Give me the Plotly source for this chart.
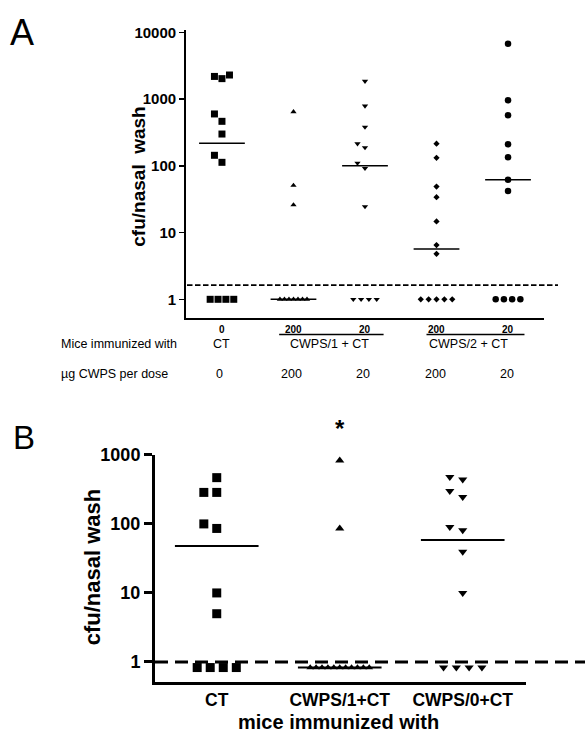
import plotly.graph_objects as go
import math

# ---------------- data: panel A ----------------
doses_A = ["0", "200", "20", "200", "20"]
vaccines_A = ["CT", "CWPS/1 + CT", "CWPS/2 + CT"]
dose_values_A = ["0", "200", "20", "200", "20"]
tick_vals_A = [1, 10, 100, 1000, 10000]
tick_text_A = ["1", "10", "100", "1000", "10000"]

values_A_ct = [2300, 2190, 2030, 600, 465, 300, 144, 113, 1, 1, 1, 1]
values_A_cwps1_200 = [645, 51, 26, 1, 1, 1, 1, 1, 1, 1]
values_A_cwps1_20 = [1860, 790, 382, 215, 188, 110, 92, 24.5, 1, 1, 1, 1]
values_A_cwps2_200 = [215, 132, 49, 34, 14.7, 6.5, 4.8, 1, 1, 1, 1, 1]
values_A_cwps2_20 = [6750, 960, 575, 210, 135, 62, 42, 1, 1, 1, 1]
medians_A = [218, 1, 100, 5.7, 62]
detection_limit_A = 1.63

# ---------------- data: panel B ----------------
categories_B = ["CT", "CWPS/1+CT", "CWPS/0+CT"]
tick_vals_B = [1, 10, 100, 1000]
tick_text_B = ["1", "10", "100", "1000"]

values_B_ct = [468, 286, 286, 100, 86, 10, 5, 0.83, 0.83, 0.83, 0.83]
values_B_cwps1 = [830, 86, 0.83, 0.83, 0.83, 0.83, 0.83, 0.83, 0.83, 0.83, 0.83, 0.83, 0.83]
values_B_cwps0 = [480, 440, 300, 245, 90, 81, 39.5, 10, 0.83, 0.83, 0.83, 0.83]
medians_B = [48, 0.83, 58.5]
detection_limit_B = 1

# ---------------- styling / layout helpers ----------------
W, H = 585, 738
FONT = "Liberation Sans, Arial, sans-serif"


def px(x):
    return x / W


def py(y):
    return 1 - y / H


def scatter_positions(values, center, ppd, thresh, step, floor_step):
    """GraphPad-like column scatter: floor values spread in a row,
    others nudged sideways when they would overlap."""
    vmin = min(values)
    floor = [v for v in values if v == vmin] if values.count(vmin) > 1 else []
    rest = sorted([v for v in values if not (floor and v == vmin)])
    xs, ys = [], []
    n = len(floor)
    for i, v in enumerate(floor):
        xs.append(center + (i - (n - 1) / 2) * floor_step)
        ys.append(v)
    placed = []
    order = [0, -1, 1, -2, 2, -3, 3]
    for v in rest:
        lv = math.log10(v)
        for s in order:
            if all(not (ps == s and abs(pl - lv) * ppd < thresh) for ps, pl in placed):
                placed.append((s, lv))
                xs.append(center + s * step)
                ys.append(v)
                break
    return xs, ys


fig = go.Figure()

# ---------- panel A ----------
groups_A = [values_A_ct, values_A_cwps1_200, values_A_cwps1_20,
            values_A_cwps2_200, values_A_cwps2_20]
symbols_A = ["square", "triangle-up", "triangle-down", "diamond", "circle"]
sizes_A = [7, 5.5, 5.5, 4.8, 6.5]
floor_steps_A = [0.11, 0.063, 0.109, 0.11, 0.115]

for i, vals in enumerate(groups_A):
    xs, ys = scatter_positions(vals, i, 67.64, 8, 0.105, floor_steps_A[i])
    fig.add_trace(go.Scatter(
        x=xs, y=ys, mode="markers", xaxis="x", yaxis="y",
        marker=dict(symbol=symbols_A[i], size=sizes_A[i], color="black",
                    opacity=1, line=dict(width=0)),
        showlegend=False, hoverinfo="skip", cliponaxis=False))

mx, my = [], []
for i, m in enumerate(medians_A):
    mx += [i - 0.32, i + 0.32, None]
    my += [m, m, None]
fig.add_trace(go.Scatter(x=mx, y=my, mode="lines", xaxis="x", yaxis="y",
                         line=dict(color="black", width=1.5),
                         showlegend=False, hoverinfo="skip"))

# ---------- panel B ----------
groups_B = [values_B_ct, values_B_cwps1, values_B_cwps0]
symbols_B = ["square", "triangle-up", "triangle-down"]
sizes_B = [9, 8, 8]
floor_steps_B = [0.106, 0.048, 0.104]
floor_sizes_B = [9, 6.8, 8]

for i, vals in enumerate(groups_B):
    xs, ys = scatter_positions(vals, i, 69.97, 10, 0.105, floor_steps_B[i])
    vmin = min(vals)
    sz = [floor_sizes_B[i] if v == vmin else sizes_B[i] for v in ys]
    fig.add_trace(go.Scatter(
        x=xs, y=ys, mode="markers", xaxis="x2", yaxis="y2",
        marker=dict(symbol=symbols_B[i], size=sz, color="black",
                    opacity=1, line=dict(width=0)),
        showlegend=False, hoverinfo="skip", cliponaxis=False))

mx, my = [], []
for i, m in enumerate(medians_B):
    mx += [i - 0.34, i + 0.34, None]
    my += [m, m, None]
fig.add_trace(go.Scatter(x=mx, y=my, mode="lines", xaxis="x2", yaxis="y2",
                         line=dict(color="black", width=2),
                         showlegend=False, hoverinfo="skip", cliponaxis=False))

# ---------- shapes ----------
shapes = [
    dict(type="line", xref="paper", yref="y", x0=px(187), x1=px(558),
         y0=detection_limit_A, y1=detection_limit_A,
         line=dict(color="black", width=1.7, dash="5.5px,2.5px")),
    dict(type="line", xref="paper", yref="y2", x0=px(155), x1=px(585),
         y0=detection_limit_B, y1=detection_limit_B,
         line=dict(color="black", width=3, dash="13px,7px")),
    dict(type="line", xref="x", yref="paper", x0=0.8, x1=2.26,
         y0=py(329), y1=py(329), line=dict(color="black", width=1.5)),
    dict(type="line", xref="x", yref="paper", x0=2.86, x1=4.23,
         y0=py(329), y1=py(329), line=dict(color="black", width=1.5)),
]

# ---------- annotations ----------
ann = []
ann.append(dict(text="A", x=px(22), y=py(23), xref="paper", yref="paper",
                showarrow=False, font=dict(family=FONT, size=36, color="black"),
                xanchor="center", yanchor="middle"))
ann.append(dict(text="B", x=px(24), y=py(433), xref="paper", yref="paper",
                showarrow=False, font=dict(family=FONT, size=33, color="black"),
                xanchor="center", yanchor="middle"))
ann.append(dict(text="cfu/nasal\u00a0 wash", x=px(139), y=py(169), xref="paper",
                yref="paper", textangle=-90, showarrow=False,
                font=dict(family=FONT, size=19, color="black", weight="bold"),
                xanchor="center", yanchor="middle"))
ann.append(dict(text="cfu/nasal wash", x=px(92), y=py(565), xref="paper",
                yref="paper", textangle=-90, showarrow=False,
                font=dict(family=FONT, size=22, color="black", weight="bold"),
                xanchor="center", yanchor="middle"))
ann.append(dict(text="mice immunized with", x=px(338.5), y=py(721.5), xref="paper",
                yref="paper", showarrow=False,
                font=dict(family=FONT, size=20, color="black", weight="bold"),
                xanchor="center", yanchor="middle"))
ann.append(dict(text="*", x=1, y=py(424), xref="x2", yref="paper",
                showarrow=False,
                font=dict(family=FONT, size=24, color="black", weight="bold"),
                xanchor="center", yanchor="middle"))
# small bold dose labels under panel A axis
for i, d in enumerate(doses_A):
    ann.append(dict(text=d, x=i, y=py(323.5), xref="x", yref="paper",
                    showarrow=False,
                    font=dict(family=FONT, size=10, color="black", weight="bold"),
                    xanchor="center", yanchor="middle"))
# table rows
row_font = dict(family=FONT, size=12.5, color="black")
ann.append(dict(text="Mice immunized with", x=px(59), y=py(339), xref="paper",
                yref="paper", showarrow=False, font=row_font,
                xanchor="left", yanchor="middle"))
for xv, t in zip([0, 1.5, 3.45], vaccines_A):
    ann.append(dict(text=t, x=xv, y=py(339), xref="x", yref="paper",
                    showarrow=False, font=row_font,
                    xanchor="center", yanchor="middle"))
ann.append(dict(text="µg CWPS per dose", x=px(59), y=py(368.5), xref="paper",
                yref="paper", showarrow=False, font=row_font,
                xanchor="left", yanchor="middle"))
for i, d in enumerate(dose_values_A):
    ann.append(dict(text=d, x=i - 0.03 + 0.02 * (i > 2), y=py(368.5), xref="x",
                    yref="paper", showarrow=False, font=row_font,
                    xanchor="center", yanchor="middle"))

fig.update_layout(
    width=W, height=H,
    margin=dict(l=0, r=0, t=0, b=0),
    paper_bgcolor="white", plot_bgcolor="white",
    showlegend=False,
    font=dict(family=FONT, color="black"),
    shapes=shapes, annotations=ann,
    xaxis=dict(domain=[px(185.7), px(544)], range=[-0.507, 4.503],
               anchor="y", showline=True, linewidth=1.6, linecolor="black",
               showticklabels=False, ticks="", showgrid=False, zeroline=False),
    yaxis=dict(domain=[py(312.7), py(20.7)], type="log", range=[-0.287, 4.03],
               anchor="x", showline=True, linewidth=1.6, linecolor="black",
               tickvals=tick_vals_A, ticktext=tick_text_A,
               ticks="outside", ticklen=5, tickwidth=1.6, tickcolor="black",
               tickfont=dict(family=FONT, size=15, color="black", weight="bold"),
               showgrid=False, zeroline=False),
    xaxis2=dict(domain=[px(155), px(525.7)], range=[-0.502, 2.512],
                anchor="y2", showline=True, linewidth=3, linecolor="black",
                tickvals=[0, 1, 2], ticktext=categories_B,
                ticks="outside", ticklen=0.5, tickcolor="rgba(0,0,0,0)",
                tickfont=dict(family=FONT, size=17.5, color="black", weight="bold"),
                showgrid=False, zeroline=False),
    yaxis2=dict(domain=[py(681), py(451)], type="log", range=[-0.287, 3.0],
                anchor="x2", showline=True, linewidth=3, linecolor="black",
                tickvals=tick_vals_B, ticktext=tick_text_B,
                ticks="outside", ticklen=8, tickwidth=3, tickcolor="black",
                tickfont=dict(family=FONT, size=18, color="black", weight="bold"),
                showgrid=False, zeroline=False),
)

fig.write_html("out.html",
               config={"displayModeBar": False, "staticPlot": True},
               post_script="document.body.style.margin='0';"
                           "document.body.style.overflow='hidden';")
